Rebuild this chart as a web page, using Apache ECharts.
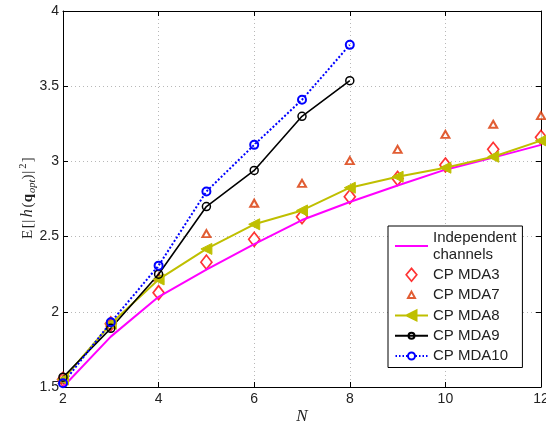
<!DOCTYPE html>
<html>
<head>
<meta charset="utf-8">
<script src="https://cdn.jsdelivr.net/npm/echarts@6/dist/echarts.min.js"></script>
<style>
  html, body { margin: 0; padding: 0; background: #fff; }
  #chart { width: 546px; height: 423px; }
</style>
</head>
<body>
<div id="chart"></div>
<script>
// E[|h(q_opt)|^2] versus N
const N = [2, 3, 4, 5, 6, 7, 8, 9, 10, 11, 12];
const N_SHORT = [2, 3, 4, 5, 6, 7, 8];
const indep = [1.50, 1.835, 2.10, 2.28, 2.45, 2.61, 2.73, 2.84, 2.945, 3.025, 3.11];
const mda3 = [1.55, 1.92, 2.127, 2.33, 2.482, 2.632, 2.765, 2.887, 2.976, 3.08, 3.16];
const mda7 = [1.55, 1.93, 2.23, 2.52, 2.722, 2.854, 3.005, 3.08, 3.18, 3.247, 3.304];
const mda8 = [1.55, 1.92, 2.215, 2.418, 2.582, 2.674, 2.825, 2.898, 2.958, 3.031, 3.138];
const mda9 = [1.565, 1.89, 2.25, 2.70, 2.94, 3.30, 3.537];
const mda10 = [1.525, 1.93, 2.307, 2.80, 3.11, 3.41, 3.775];

const pairs = (xs, ys) => ys.map((y, i) => [xs[i], y]);
const SANS = 'Liberation Sans, Arial, sans-serif';
const SERIF = 'Liberation Serif, Times New Roman, serif';
const TXT = '#222';
const NONE = 'rgba(0,0,0,0)';

// legend icons: line sample + marker, boxed in 33x14 so nothing gets stretched
const BOX = 'path://M0,0M33,14';
const ICONS = {
  indep: BOX + 'M0,7L33,7',
  mda3: BOX + 'M16.5,0.6L21.8,7L16.5,13.4L11.2,7Z',
  mda7: BOX + 'M16.5,3.5L20,10L13,10Z',
  mda8: BOX + 'M0,7L33,7M11.5,7L21.5,2L21.5,12Z',
  mda9: BOX + 'M0,7L33,7M19.5,7A3 3 0 1 1 13.5,7A3 3 0 1 1 19.5,7Z',
  mda10: BOX + 'M0.5,7L2,7M4,7L5.5,7M7.5,7L9,7M11,7L12.5,7M20.5,7L22,7M24,7L25.5,7M27.5,7L29,7M31,7L32.5,7' +
    'M20,7A3.5 3.5 0 1 1 13,7A3.5 3.5 0 1 1 20,7Z',
};

const chart = echarts.init(document.getElementById('chart'), null, { renderer: 'canvas' });

const gridLine = { show: true, lineStyle: { color: '#b8b8b8', type: [1, 3], width: 1 } };
const tick = { show: true, inside: true, length: 5, lineStyle: { color: '#000' } };
const axisLine = { show: true, lineStyle: { color: '#000', width: 1 } };

const seg = (w, extra) => Object.assign({
  fontFamily: SERIF, fontSize: 15, width: w, align: 'center', color: TXT,
}, extra || {});

chart.setOption({
  animation: false,
  grid: { left: 63, right: 5, top: 11, bottom: 36, outerBoundsMode: 'none' },
  xAxis: [{
    type: 'value', min: 2, max: 12, interval: 2,
    axisLine, axisTick: tick, splitLine: gridLine,
    axisLabel: { color: TXT, fontFamily: SANS, fontSize: 14, margin: 5 },
    name: 'N', nameLocation: 'middle', nameGap: 21, nameMoveOverlap: false,
    nameTextStyle: { fontFamily: SERIF, fontStyle: 'italic', fontSize: 17, color: TXT },
  }, {
    type: 'value', position: 'top', min: 2, max: 12, interval: 2,
    axisLine, axisTick: tick, splitLine: { show: false }, axisLabel: { show: false },
  }],
  yAxis: [{
    type: 'value', min: 1.5, max: 4, interval: 0.5,
    axisLine, axisTick: tick, splitLine: gridLine,
    axisLabel: { color: TXT, fontFamily: SANS, fontSize: 14, margin: 4 },
    name: '{e|E}{b1|[}{v1||}{h|h}{p1|(}{q|q}{sub|opt}{p2|)}{v2||}{sup|2}{b2|]}',
    nameLocation: 'middle', nameGap: 25, nameRotate: 90, nameMoveOverlap: false,
    nameTextStyle: {
      color: TXT, fontFamily: SERIF, fontSize: 15, lineHeight: 20,
      rich: {
        e: seg(12), b1: seg(5.5), v1: seg(3.5),
        h: seg(12.5, { fontSize: 16, fontStyle: 'italic' }),
        p1: seg(4), q: seg(10, { fontWeight: 'bold' }),
        sub: seg(13.5, { fontSize: 10.5, fontStyle: 'italic', verticalAlign: 'bottom' }),
        p2: seg(5), v2: seg(4.5),
        sup: seg(8, { fontSize: 10.5, verticalAlign: 'top' }),
        b2: seg(4.5),
      },
    },
  }, {
    type: 'value', position: 'right', min: 1.5, max: 4, interval: 0.5,
    axisLine, axisTick: tick, splitLine: { show: false }, axisLabel: { show: false },
  }],
  legend: {
    orient: 'vertical', left: 388, top: 226,
    padding: [3, 6, 3, 6], itemGap: 3.3, itemWidth: 33, itemHeight: 14,
    backgroundColor: '#fff', borderColor: '#000', borderWidth: 1,
    textStyle: { fontFamily: SANS, fontSize: 15, color: TXT, lineHeight: 17 },
    formatter: n => n === 'Independent channels' ? 'Independent\nchannels' : n,
    data: [
      { name: 'Independent channels', icon: ICONS.indep,
        itemStyle: { color: NONE, borderColor: '#ff00ff', borderWidth: 2 } },
      { name: 'CP MDA3', icon: ICONS.mda3,
        itemStyle: { color: '#fff', borderColor: '#ff0000', borderWidth: 1.7 } },
      { name: 'CP MDA7', icon: ICONS.mda7,
        itemStyle: { color: '#fff', borderColor: '#d93500', borderWidth: 2 } },
      { name: 'CP MDA8', icon: ICONS.mda8,
        itemStyle: { color: '#bfbf00', borderColor: '#bfbf00', borderWidth: 2 } },
      { name: 'CP MDA9', icon: ICONS.mda9,
        itemStyle: { color: NONE, borderColor: '#000', borderWidth: 2 } },
      { name: 'CP MDA10', icon: ICONS.mda10,
        itemStyle: { color: NONE, borderColor: '#0000ff', borderWidth: 2 } },
    ],
  },
  series: [
    {
      name: 'Independent channels', type: 'line', data: pairs(N, indep),
      symbol: 'none', lineStyle: { color: '#ff00ff', width: 2 }, itemStyle: { color: '#ff00ff' },
    },
    {
      name: 'CP MDA3', type: 'scatter', data: pairs(N, mda3),
      symbol: 'diamond', symbolSize: [11, 14],
      itemStyle: { color: '#fff', borderColor: '#ff0000', borderWidth: 1.7 },
    },
    {
      name: 'CP MDA7', type: 'scatter', data: pairs(N, mda7),
      symbol: 'triangle', symbolSize: [8, 7],
      itemStyle: { color: '#fff', borderColor: '#d93500', borderWidth: 2 },
    },
    {
      name: 'CP MDA8', type: 'line', data: pairs(N, mda8),
      symbol: 'path://M0,5 L10,0 L10,10 Z', symbolSize: [11, 11], showAllSymbol: true,
      lineStyle: { color: '#bfbf00', width: 2 },
      itemStyle: { color: '#bfbf00', borderColor: '#bfbf00', borderWidth: 1 },
    },
    {
      name: 'CP MDA9', type: 'line', data: pairs(N_SHORT, mda9),
      symbol: 'circle', symbolSize: 8, showAllSymbol: true,
      lineStyle: { color: '#000', width: 1.6 },
      itemStyle: { color: NONE, borderColor: '#000', borderWidth: 1.5 },
    },
    {
      name: 'CP MDA10', type: 'line', data: pairs(N_SHORT, mda10),
      symbol: 'circle', symbolSize: 8, showAllSymbol: true,
      lineStyle: { color: '#0000ff', width: 2, type: [2, 2] },
      itemStyle: { color: NONE, borderColor: '#0000ff', borderWidth: 2 },
    },
  ],
});
</script>
</body>
</html>
